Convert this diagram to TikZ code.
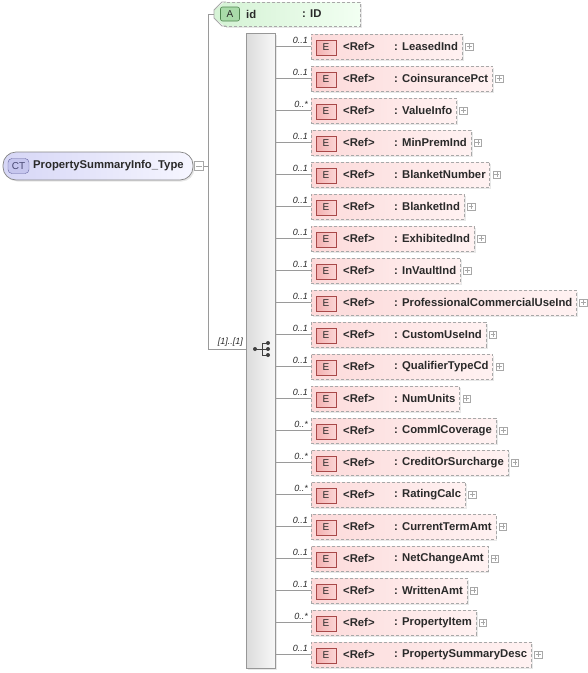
\documentclass[tikz,border=0pt]{standalone}
\usepackage{fontspec}
\setmainfont{Liberation Sans}
\usetikzlibrary{calc,fit,backgrounds,shadows}
\definecolor{conncol}{HTML}{9A9A9A}
\definecolor{dashcol}{HTML}{A8A8A8}
\definecolor{eboxL}{HTML}{FCDADA}
\definecolor{eboxR}{HTML}{FFF2F2}
\definecolor{ebadgeF}{HTML}{F3AFAF}
\definecolor{ebadgeL}{HTML}{FBD6D6}
\definecolor{ebadgeD}{HTML}{A84848}
\definecolor{attrL}{HTML}{D6F3D6}
\definecolor{attrR}{HTML}{F2FFF2}
\definecolor{abadgeF}{HTML}{A9DBA9}
\definecolor{abadgeD}{HTML}{4E844E}
\definecolor{ctL}{HTML}{D6D6F6}
\definecolor{ctR}{HTML}{F6F6FF}
\definecolor{ctbadgeF}{HTML}{C6C6EE}
\definecolor{ctbadgeD}{HTML}{6464A0}
\definecolor{txt}{HTML}{2A2A2A}
\begin{document}
\begin{tikzpicture}[x=1pt,y=-1pt,
  font=\fontsize{11.3}{13}\selectfont\bfseries,
  conn/.style={draw=conncol, line width=0.7pt},
  ebox/.style={draw=dashcol, dash pattern=on 3pt off 2pt, line width=0.8pt,
     left color=eboxL, right color=eboxR, inner sep=0pt,
     drop shadow={shadow xshift=1.5pt, shadow yshift=-1.5pt, opacity=0.18}},
  ebadge/.style={draw=ebadgeD, left color=ebadgeF, right color=ebadgeL, minimum width=20pt, minimum height=15pt,
     inner sep=0pt, font=\fontsize{10}{12}\selectfont\mdseries, text=txt, line width=0.6pt},
  rtext/.style={anchor=west, inner sep=0pt, text=txt},
  mult/.style={anchor=south east, inner sep=0pt, font=\fontsize{9}{10}\selectfont\itshape\mdseries, text=txt},
  plusbox/.style={draw=dashcol, fill=white, minimum width=7.5pt, minimum height=7.5pt, inner sep=0pt, line width=0.5pt,
     path picture={\draw[dashcol, line width=0.5pt] ([xshift=1.3pt]path picture bounding box.west) -- ([xshift=-1.3pt]path picture bounding box.east)
       ([yshift=-1.3pt]path picture bounding box.north) -- ([yshift=1.3pt]path picture bounding box.south);}},
  minusbox/.style={draw=dashcol, fill=white, minimum width=9pt, minimum height=9pt, inner sep=0pt, line width=0.5pt,
     path picture={\draw[dashcol, line width=0.5pt] ([xshift=1.5pt]path picture bounding box.west) -- ([xshift=-1.5pt]path picture bounding box.east);}}
]
\useasboundingbox (0,0) rectangle (588,673);

% complex type node
\node[draw=dashcol!80!black, line width=0.7pt, rounded corners=13pt, left color=ctL, right color=ctR,
      minimum width=190pt, minimum height=28pt, inner sep=0pt,
      drop shadow={shadow xshift=1.5pt, shadow yshift=-1.5pt, opacity=0.2}] (ct) at (98,166) {};
\node[draw=ctbadgeD, fill=ctbadgeF, rounded corners=4pt, minimum width=21pt, minimum height=15pt, inner sep=0pt,
      font=\fontsize{10}{12}\selectfont\mdseries, text=ctbadgeD!70!black] (ctb) at (18.5,166) {CT};
\node[rtext] (ctname) at (33,166) {PropertySummaryInfo\_Type};
\node[minusbox] (ctm) at (199,166) {};

% junction
\coordinate (jmid) at (208,166);
\coordinate (jtop) at (208,14);
\coordinate (jbot) at (208,349);
\draw[conn] (ctm.east) -- (jmid);
\draw[conn] (jtop) -- (jbot);

% attribute
\node[draw=dashcol, dash pattern=on 3pt off 2pt, line width=0.8pt, left color=attrL, right color=attrR,
      minimum width=136pt, minimum height=24pt, inner sep=0pt,
      drop shadow={shadow xshift=1.5pt, shadow yshift=-1.5pt, opacity=0.18}] (attr) at (292,14) {};
\fill[attrL] (224,2.4) -- (226,2.4) -- (226,25.6) -- (224,25.6) -- (214,18) -- (214,10) -- cycle;
\draw[dashcol, line width=0.8pt] (226,2) -- (222,2) -- (214,10) -- (214,18) -- (222,26) -- (226,26);
\coordinate (attrtip) at (214,14);
\draw[conn] (jtop) -- (attrtip);
\node[draw=abadgeD, fill=abadgeF, rounded corners=2pt, minimum width=19pt, minimum height=14pt, inner sep=0pt,
      font=\fontsize{10}{12}\selectfont\mdseries, text=txt, line width=0.6pt] (ab) at (230,14) {A};
\node[rtext] (aid) at (246,14) {id};
\node[rtext] (atype) at (302,14) {: ID};

% sequence bar
\node[draw=dashcol!90!black, line width=0.6pt, left color=black!14, right color=black!3,
      minimum width=29pt, minimum height=635pt, inner sep=0pt,
      drop shadow={shadow xshift=1.5pt, shadow yshift=-1.5pt, opacity=0.18}] (seq) at (260.5,350.5) {};
\draw[conn] (jbot) -- (seq.west |- jbot);
\node[mult, anchor=south east] (seqm) at (243,347) {[1]..[1]};
% sequence icon
\coordinate (si) at (262,349);
\fill[black!75] (255,349) circle (2pt) (268,343) circle (2pt) (268,349) circle (2pt) (268,355) circle (2pt);
\draw[black!75, line width=0.8pt] (255,349) -- (262,349) (262,343) -- (262,355) (262,343) -- (268,343) (262,349) -- (268,349) (262,355) -- (268,355);

% elements
\foreach \nm/\mu [count=\i from 0] in {LeasedInd/0..1, CoinsurancePct/0..1, ValueInfo/0..*, MinPremInd/0..1,
  BlanketNumber/0..1, BlanketInd/0..1, ExhibitedInd/0..1, InVaultInd/0..1, ProfessionalCommercialUseInd/0..1,
  CustomUseInd/0..1, QualifierTypeCd/0..1, NumUnits/0..1, CommlCoverage/0..*, CreditOrSurcharge/0..*,
  RatingCalc/0..*, CurrentTermAmt/0..1, NetChangeAmt/0..1, WrittenAmt/0..1, PropertyItem/0..*, PropertySummaryDesc/0..1}{
  \pgfmathsetmacro\cy{46.5+32*\i}
  \node[ebadge] (e\i) at (326,\cy+1) {E};
  \node[rtext] (r\i) at (343,\cy) {<Ref>};
  \node[rtext] (n\i) at (394,\cy) {: \nm};
  \coordinate (tl\i) at (311,\cy-12.5);
  \coordinate (br\i) at ($(n\i.east)+(4,12.5)$);
  \begin{pgfonlayer}{background}
    \node[ebox, fit=(tl\i)(br\i)] (b\i) {};
  \end{pgfonlayer}
  \node[plusbox, anchor=west] (p\i) at ($(b\i.east)+(2.5,0)$) {};
  \draw[conn] (seq.east |- b\i.west) -- (b\i.west);
  \node[mult] (m\i) at (308,\cy-2.5) {\mu};
}
\end{tikzpicture}
\end{document}
